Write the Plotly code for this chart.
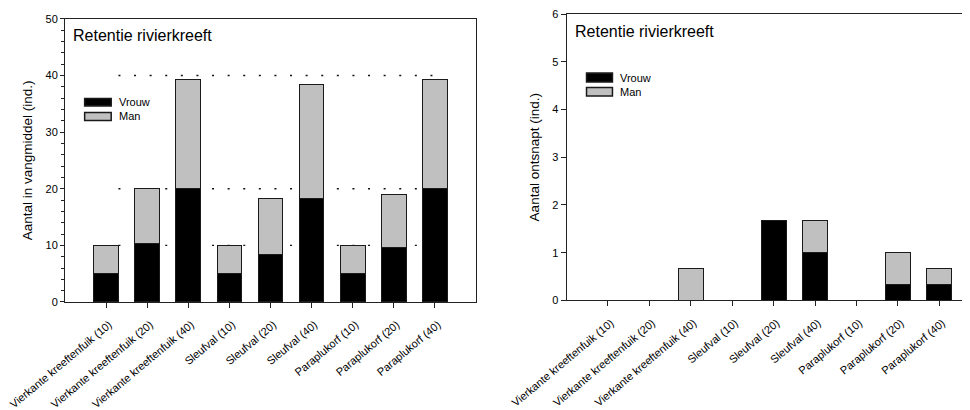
import plotly.graph_objects as go
from plotly.subplots import make_subplots

categories = [
    "Vierkante kreeftenfuik (10)", "Vierkante kreeftenfuik (20)", "Vierkante kreeftenfuik (40)",
    "Sleufval (10)", "Sleufval (20)", "Sleufval (40)",
    "Paraplukorf (10)", "Paraplukorf (20)", "Paraplukorf (40)",
]
# Left panel: number in trap (ind.)
vangst_vrouw = [5, 10.33, 20, 5, 8.33, 18.33, 5, 9.67, 20]
vangst_man = [5, 9.67, 19.33, 5, 10, 20, 5, 9.33, 19.33]
# Right panel: number escaped (ind.)
ontsnapt_vrouw = [0, 0, 0, 0, 1.67, 1, 0, 0.33, 0.33]
ontsnapt_man = [0, 0, 0.67, 0, 0, 0.67, 0, 0.67, 0.33]
# Reference levels (dotted lines) in left panel
ref_levels = [10, 20, 40]
ref_span = [0.3, 8.0]

series_names = ["Vrouw", "Man"]
series_colors = ["#000000", "#c0c0c0"]
panel_title = "Retentie rivierkreeft"
ylabels = ["Aantal in vangmiddel (ind.)", "Aantal ontsnapt (ind.)"]

FONT = "Liberation Sans, Arial, sans-serif"
x_idx = list(range(len(categories)))

fig = make_subplots(rows=1, cols=2)

bar_line = dict(color="#1a1a1a", width=1)
for col, (vr, mn) in enumerate([(vangst_vrouw, vangst_man), (ontsnapt_vrouw, ontsnapt_man)], start=1):
    for name, vals, colr in zip(series_names, [vr, mn], series_colors):
        fig.add_trace(go.Bar(x=x_idx, y=vals, name=name, width=0.6,
                             marker=dict(color=colr, line=bar_line),
                             showlegend=False), row=1, col=col)

# page body has an 8px default margin: figure is 962x402 so it ends at the window edge
fig.update_layout(
    barmode="stack",
    width=962, height=402,
    margin=dict(l=55, r=0, t=3, b=106.7),
    plot_bgcolor="white", paper_bgcolor="white",
    font=dict(family=FONT, size=11, color="#000"),
)

axis_common = dict(showgrid=False, zeroline=False, showline=True, linecolor="#222", linewidth=1,
                   ticks="outside", tickcolor="#222", tickwidth=1, ticklabeloverflow="allow")

fig.update_xaxes(axis_common, tickmode="array", tickvals=x_idx, ticktext=categories,
                 tickangle=-40, ticklen=5, tickfont=dict(size=11),
                 ticklabelshift=3, ticklabelstandoff=6)
fig.update_xaxes(domain=[0, 0.4542], range=[-1, 9], mirror=True, row=1, col=1)
fig.update_xaxes(domain=[0.5542, 1], range=[-1, 8.74], mirror=True, row=1, col=2)

fig.update_yaxes(axis_common, tickfont=dict(size=11))
fig.update_yaxes(domain=[0, 0.983], range=[0, 50], dtick=10, ticklen=4, mirror=True,
                 minor=dict(dtick=2, ticks="outside", ticklen=3, tickcolor="#222"),
                 title=dict(text=ylabels[0], font=dict(size=13.5), standoff=9), row=1, col=1)
fig.update_yaxes(domain=[0.0055, 1], range=[0, 6], dtick=1, ticklen=5, mirror=False,
                 title=dict(text=ylabels[1], font=dict(size=13.5), standoff=9), row=1, col=2)

# reference dotted lines
for lvl in ref_levels:
    fig.add_shape(type="line", xref="x", yref="y", x0=ref_span[0], x1=ref_span[1], y0=lvl, y1=lvl,
                  line=dict(color="#111", width=1.3, dash="2px,13.6px"), layer="below")

# panel titles + custom legends
legend_pos = [
    dict(xr="x domain", yr="y domain", tx=0.0146, ty=0.9408,
         bx0=0.0478, bx1=0.1124, rows=[(0.6927, 0.7191, 0.7060), (0.6415, 0.6693, 0.6554)], lx=0.126),
    dict(xr="x2 domain", yr="y2 domain", tx=0.0148, ty=0.9405,
         bx0=0.0495, bx1=0.1138, rows=[(0.7627, 0.7936, 0.7781), (0.7134, 0.7430, 0.7282)], lx=0.1269),
]
for p in legend_pos:
    fig.add_annotation(xref=p["xr"], yref=p["yr"], x=p["tx"], y=p["ty"], text=panel_title,
                       showarrow=False, xanchor="left", yanchor="middle", font=dict(size=16))
    for (y0, y1, yc), name, colr in zip(p["rows"], series_names, series_colors):
        fig.add_shape(type="rect", xref=p["xr"], yref=p["yr"], x0=p["bx0"], x1=p["bx1"], y0=y0, y1=y1,
                      fillcolor=colr, line=dict(color="#1a1a1a", width=1.5))
        fig.add_annotation(xref=p["xr"], yref=p["yr"], x=p["lx"], y=yc, text=name, showarrow=False,
                           xanchor="left", yanchor="middle", font=dict(size=11))

fig.write_html("out.html")
